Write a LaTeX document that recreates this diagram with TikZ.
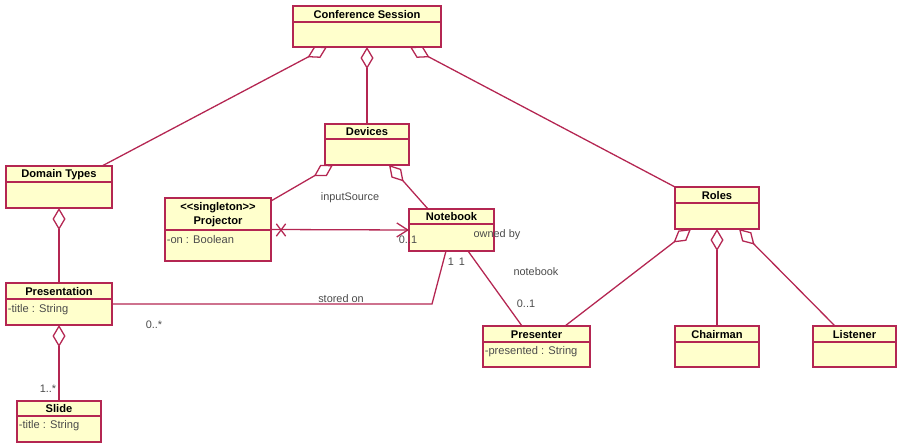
\documentclass[tikz,border=0pt]{standalone}
\usepackage{fontspec}
\setmainfont{Liberation Sans}
\usepackage{tikz}
\usetikzlibrary{arrows.meta, positioning, calc, shapes.misc}
\usepackage{xcolor}
\definecolor{umlred}{RGB}{180,38,82}
\definecolor{umlfill}{RGB}{255,255,204}
\definecolor{umlgray}{RGB}{75,75,75}

% stereotype brackets, kept apart from the << >> font mapping
\newcommand{\stereo}[1]{<\kern0pt<#1>\kern0pt>}
% class box: name, left, top, right, bottom, header height, title
\newcommand{\umlclass}[7]{%
  \node[clsbox, minimum width={(#4-#2)*0.3mm}, minimum height={(#5-#3)*0.3mm}] (#1) at ({(#2+#4)/2},{(#3+#5)/2}) {};
  \draw[line] (#2,{#3+#6}) -- (#4,{#3+#6});
  \node[clstitle] (#1-name) at ({(#2+#4)/2},{#3+#6/2+0.5}) {#7};
}

\begin{document}
\begin{tikzpicture}[
    x=0.3mm, y=-0.3mm,
    line/.style={draw=umlred, line width=1.1pt},
    clsbox/.style={rectangle, line, fill=umlfill, inner sep=0, outer sep=0},
    clstitle/.style={font=\fontsize{9.5}{12.5}\selectfont\bfseries, align=center, inner sep=0},
    clsattr/.style={anchor=west, font=\fontsize{9.5}{11}\selectfont, text=umlgray, inner sep=0.5pt},
    lbl/.style={font=\fontsize{9.3}{11}\selectfont, text=umlgray, inner sep=0},
    agg/.style={line, {Diamond[open, length=6.6mm, width=3.9mm]}-},
    nav/.style={line, -{Straight Barb[length=3.3mm, width=4.2mm]}},
    xmark/.style={cross out, line, minimum width=2.4mm, minimum height=3.3mm, inner sep=0},
]
    \useasboundingbox (0,0) rectangle (897,443);

    % Classes
    \umlclass{cs}{293}{6}{441}{47}{16}{Conference Session}
    \umlclass{devices}{325}{124}{409}{165}{15}{Devices}
    \umlclass{domain}{6}{166}{112}{208}{16}{Domain Types}
    \umlclass{projector}{165}{198}{271}{261}{32}{\stereo{singleton}\\Projector}
    \umlclass{notebook}{409}{209}{494}{251}{15}{Notebook}
    \umlclass{roles}{675}{187}{759}{229}{16}{Roles}
    \umlclass{presentation}{6}{283}{112}{325}{16}{Presentation}
    \umlclass{presenter}{483}{326}{590}{367}{16}{Presenter}
    \umlclass{chairman}{675}{326}{759}{367}{16}{Chairman}
    \umlclass{listener}{813}{326}{896}{367}{16}{Listener}
    \umlclass{slide}{17}{401}{101}{442}{15}{Slide}

    % Attributes
    \node[clsattr] (projector-attr) at (166,240) {-on : Boolean};
    \node[clsattr] (presentation-attr) at (7,310) {-title : String};
    \node[clsattr] (slide-attr) at (18,426) {-title : String};
    \node[clsattr] (presenter-attr) at (484,352) {-presented : String};

    % Aggregations
    \draw[agg] ([xshift=10.2mm]cs.south west) -- ([xshift=-3mm]domain.north east);
    \draw[agg] (cs.south) -- (devices.north);
    \draw[agg] ([xshift=-9.3mm]cs.south east) -- (roles.north west);
    \draw[agg] ([xshift=2.4mm]devices.south west) -- ([yshift=-0.9mm]projector.north east);
    \draw[agg] ([xshift=-6mm]devices.south east) -- ([xshift=5.7mm]notebook.north west);
    \draw[agg] (domain.south) -- (presentation.north);
    \draw[agg] (presentation.south) -- (slide.north);
    \draw[agg] ([xshift=4.8mm]roles.south west) -- ([xshift=24.6mm]presenter.north west);
    \draw[agg] (roles.south) -- (chairman.north);
    \draw[agg] ([xshift=-6mm]roles.south east) -- ([xshift=6.6mm]listener.north west);

    % inputSource
    \node[xmark] (xcut) at (281,230) {};
    \draw[nav] (projector.east) -- (notebook.west);
    \node[lbl] (l-input) at (350,198) {inputSource};
    \node[lbl] (l-input-m) at (408,240) {0..1};

    % stored on
    \draw[line] (presentation.east) -- ++(320,0) -- ([xshift=11.1mm]notebook.south west);
    \node[lbl] (l-stored) at (341,299) {stored on};
    \node[lbl] (l-stored-m) at (154,325) {0..*};
    \node[lbl] (l-one-a) at (451,262) {1};
    \node[lbl] (l-one-b) at (462,262) {1};

    % owned by
    \draw[line] ([xshift=17.7mm]notebook.south west) -- ([xshift=11.7mm]presenter.north west);
    \node[lbl] (l-owned) at (497,235) {owned by};
    \node[lbl] (l-nb) at (536,272) {notebook};
    \node[lbl] (l-owned-m) at (526,304) {0..1};

    % multiplicity
    \node[lbl] (l-slide-m) at (48,389) {1..*};

\end{tikzpicture}
\end{document}
